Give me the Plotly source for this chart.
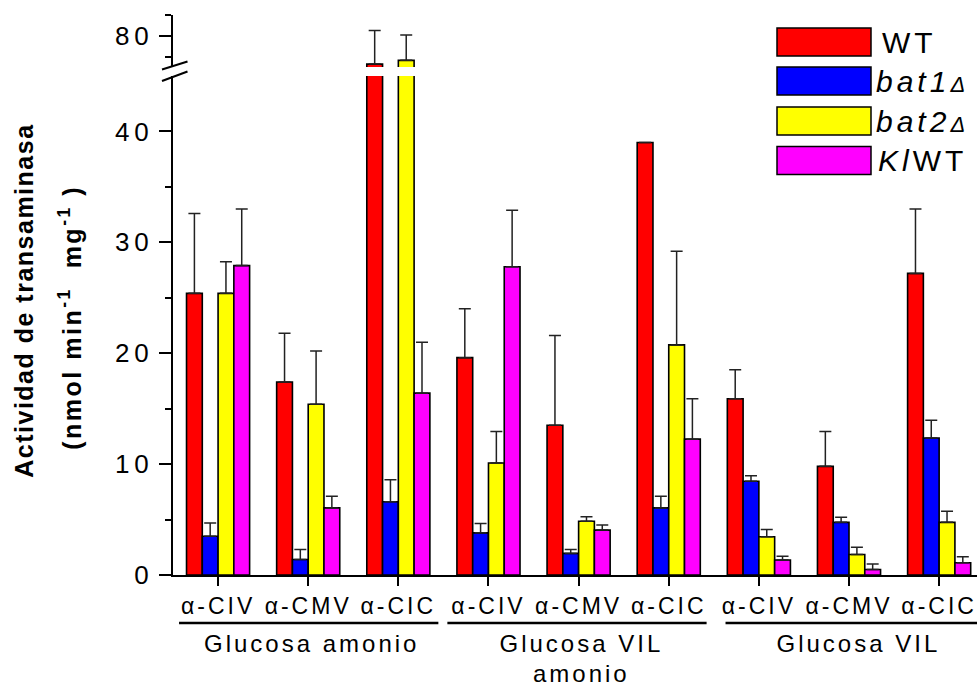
import plotly.graph_objects as go

# ---------------- data ----------------
categories = ["α-CIV", "α-CMV", "α-CIC"] * 3
groups = ["Glucosa amonio", "Glucosa VIL", "Glucosa VIL"]
group_sublabels = ["", "amonio", ""]
series_names = ["WT", "bat1Δ", "bat2Δ", "KlWT"]

wt = [25.4, 17.4, 73.2, 19.6, 13.5, 39.0, 15.9, 9.8, 27.2]
wt_err = [7.2, 4.4, 8.1, 4.4, 8.1, None, 2.6, 3.15, 5.8]
bat1 = [3.5, 1.4, 6.6, 3.8, 1.95, 6.05, 8.45, 4.75, 12.35]
bat1_err = [1.2, 0.9, 2.0, 0.85, 0.35, 1.05, 0.5, 0.45, 1.6]
bat2 = [25.4, 15.4, 74.1, 10.1, 4.85, 20.75, 3.45, 1.85, 4.75]
bat2_err = [2.85, 4.8, 6.1, 2.85, 0.4, 8.45, 0.65, 0.65, 1.0]
klwt = [27.9, 6.05, 16.4, 27.8, 4.05, 12.25, 1.35, 0.5, 1.1]
klwt_err = [5.1, 1.05, 4.6, 5.1, 0.45, 3.65, 0.35, 0.5, 0.55]

colors = ["#FF0000", "#0000FF", "#FFFF00", "#FF00FF"]
values = [wt, bat1, bat2, klwt]
errors = [wt_err, bat1_err, bat2_err, klwt_err]
legend_labels = ["WT", "<i>bat1</i><i><span style='font-size:22px'>Δ</span></i>",
                 "<i>bat2</i><i><span style='font-size:22px'>Δ</span></i>", "<i>Kl</i>WT"]

x_pos = list(range(len(categories)))

FONT = "Liberation Sans, Arial, sans-serif"
W, H = 977, 687
ML, MT, MB = 173, 15, 112
PW = W - ML
PH = H - MT - MB


def px(xp):
    return (xp - ML) / PW


def py(yp):
    return (H - MB - yp) / PH


fig = go.Figure()
for yax in ["y", "y2"]:
    for name, vals, errs, col in zip(series_names, values, errors, colors):
        fig.add_trace(go.Bar(
            x=x_pos, y=vals, name=name, yaxis=yax, xaxis="x",
            marker=dict(color=col, line=dict(color="black", width=1.6)),
            error_y=dict(type="data", array=errs, symmetric=False,
                         arrayminus=[0] * len(vals), color="#222222",
                         thickness=1.5, width=6),
            showlegend=False,
        ))

lower_top = py(76)
upper_bot = py(67)

fig.update_layout(
    width=W, height=H,
    margin=dict(l=ML, r=0, t=MT, b=MB),
    paper_bgcolor="white", plot_bgcolor="white",
    barmode="group", bargap=0.3, bargroupgap=0,
    font=dict(family=FONT, color="black"),
    xaxis=dict(range=[-0.5, 8.42], tickmode="array", tickvals=x_pos,
               ticktext=categories, showline=True, linecolor="black",
               linewidth=2, ticks="outside", ticklen=9, tickwidth=2,
               tickcolor="black", showgrid=False, zeroline=False,
               tickfont=dict(size=23, family=FONT), anchor="y"),
    yaxis=dict(domain=[0, lower_top], range=[0, 45], tickmode="array",
               tickvals=[0, 10, 20, 30, 40], showline=True,
               linecolor="black", linewidth=2, ticks="outside", ticklen=12,
               tickwidth=2, tickcolor="black", showgrid=False,
               zeroline=False, tickfont=dict(size=26, family=FONT),
               minor=dict(tickmode="array", tickvals=[5, 15, 25, 35],
                          ticks="outside", ticklen=6, tickwidth=2,
                          tickcolor="black"),
               anchor="x"),
    yaxis2=dict(domain=[upper_bot, 1], range=[72.5, 85], tickmode="array",
                tickvals=[80], showline=True, linecolor="black",
                linewidth=2, ticks="outside", ticklen=12, tickwidth=2,
                tickcolor="black", showgrid=False, zeroline=False,
                tickfont=dict(size=26, family=FONT),
                minor=dict(tickmode="array", tickvals=[75, 85],
                           ticks="outside", ticklen=6, tickwidth=2,
                           tickcolor="black"),
                anchor="x"),
)

shapes = []
annotations = []

# axis break marks
for (x0, y0, x1, y1) in [(162, 69.5, 187.5, 61.5), (162, 81, 187.5, 71.5)]:
    shapes.append(dict(type="line", xref="paper", yref="paper",
                       x0=px(x0), y0=py(y0), x1=px(x1), y1=py(y1),
                       line=dict(color="black", width=2)))

# group lines and labels
group_spans = [(-0.433, 2.444), (2.544, 5.42), (5.63, 8.6)]
group_centers = [1.04, 4.03, 7.11]
for (a, b), c, g, s in zip(group_spans, group_centers, groups, group_sublabels):
    shapes.append(dict(type="line", xref="x", yref="paper", x0=a, x1=b,
                       y0=py(623), y1=py(623),
                       line=dict(color="black", width=2.5)))
    annotations.append(dict(xref="x", yref="paper", x=c, y=py(643),
                            xanchor="center", yanchor="middle", showarrow=False,
                            text=g, font=dict(size=24, family=FONT)))
    if s:
        annotations.append(dict(xref="x", yref="paper", x=c, y=py(673),
                                xanchor="center", yanchor="middle",
                                showarrow=False, text=s,
                                font=dict(size=24, family=FONT)))

# legend (drawn manually to get wide swatches)
leg_centers = [42, 81, 121, 160.5]
for lab, col, yc in zip(legend_labels, colors, leg_centers):
    shapes.append(dict(type="rect", xref="paper", yref="paper",
                       x0=px(777), x1=px(871), y0=py(yc - 14), y1=py(yc + 14),
                       fillcolor=col, line=dict(color="black", width=1.5)))
    annotations.append(dict(xref="paper", yref="paper", x=px(884), y=py(yc),
                            xanchor="left", yanchor="middle", showarrow=False,
                            text=lab, font=dict(size=30, family=FONT)))

# y-axis title (two lines)
annotations.append(dict(xref="paper", yref="paper", x=px(24), y=py(300),
                        xanchor="center", yanchor="middle", showarrow=False,
                        textangle=-90, text="<b>Actividad de transaminasa</b>",
                        font=dict(size=25, family=FONT)))
annotations.append(dict(xref="paper", yref="paper", x=px(70), y=py(318),
                        xanchor="center", yanchor="middle", showarrow=False,
                        textangle=-90,
                        text="<b>(nmol min<sup>-1</sup>  mg<sup>-1</sup> )</b>",
                        font=dict(size=25, family=FONT)))

fig.update_layout(shapes=shapes, annotations=annotations)

post = """
var gd = document.getElementById('{plot_id}');
function spacing(){
  document.querySelectorAll('.xtick text').forEach(function(t){t.style.letterSpacing='3px';});
  document.querySelectorAll('.ytick text, .y2tick text').forEach(function(t){t.style.letterSpacing='5px';});
  var anns = document.querySelectorAll('.annotation-text');
  anns.forEach(function(t){
    var s = t.textContent;
    var ls = '3px';
    if (s.indexOf('Actividad') >= 0) ls = '1.5px';
    else if (s.indexOf('nmol') >= 0) ls = '2.5px';
    else if (s === 'WT' || s.indexOf('bat') === 0 || s.indexOf('Kl') === 0) ls = '4px';
    t.style.letterSpacing = ls;
  });
}
spacing();
gd.on('plotly_afterplot', spacing);
"""

fig.write_html("out.html", post_script=post, config={"displayModeBar": False})
